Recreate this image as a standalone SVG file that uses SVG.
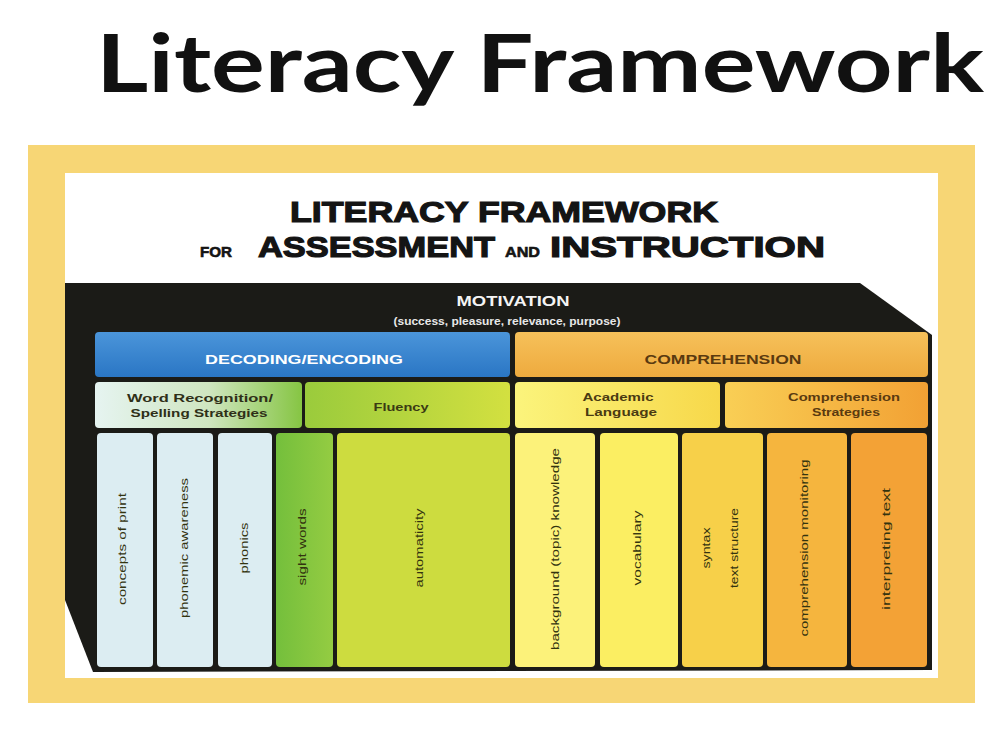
<svg xmlns="http://www.w3.org/2000/svg" width="997" height="733" viewBox="0 0 997 733">
<defs>
<style>
.h{font-family:"Liberation Sans",Arial,sans-serif;font-weight:900;fill:#141414;stroke:#141414;stroke-width:1.2px}
.s{font-family:"Liberation Sans",Arial,sans-serif;font-weight:bold}
.c{font-family:"Liberation Sans",Arial,sans-serif;font-size:11px;fill:#33330f;text-anchor:middle}
</style>
<linearGradient id="gBlue" x1="0" y1="0" x2="0" y2="1"><stop offset="0" stop-color="#4b95da"/><stop offset="1" stop-color="#2a76c4"/></linearGradient>
<linearGradient id="gComp" x1="0" y1="0" x2="0" y2="1"><stop offset="0" stop-color="#f6c15a"/><stop offset="1" stop-color="#eeaa3e"/></linearGradient>
<linearGradient id="gWord" x1="0" y1="0" x2="1" y2="0"><stop offset="0" stop-color="#e6f4f1"/><stop offset="0.55" stop-color="#cfe6c0"/><stop offset="1" stop-color="#86c543"/></linearGradient>
<linearGradient id="gFlu" x1="0" y1="0" x2="1" y2="0"><stop offset="0" stop-color="#9acb3c"/><stop offset="1" stop-color="#d3e040"/></linearGradient>
<linearGradient id="gAcad" x1="0" y1="0" x2="1" y2="0"><stop offset="0" stop-color="#fbf47c"/><stop offset="1" stop-color="#f7d84a"/></linearGradient>
<linearGradient id="gStrat" x1="0" y1="0" x2="1" y2="0"><stop offset="0" stop-color="#f9cf55"/><stop offset="1" stop-color="#f2a134"/></linearGradient>
<linearGradient id="gSight" x1="0" y1="0" x2="1" y2="0"><stop offset="0" stop-color="#74bf3c"/><stop offset="1" stop-color="#94cc42"/></linearGradient>
</defs>
<rect width="997" height="733" fill="#ffffff"/>
<text x="96" y="92" font-family="Lato,'Open Sans',sans-serif" font-weight="bold" font-size="80" fill="#111" textLength="888" lengthAdjust="spacingAndGlyphs">Literacy Framework</text>

<g id="frame">
<rect x="28" y="145" width="947" height="558" fill="#f7d675"/>
<rect x="65" y="173" width="873" height="505" fill="#ffffff"/>
</g>

<g id="heading">
<text class="h" x="290" y="222" font-size="30" textLength="428" lengthAdjust="spacingAndGlyphs">LITERACY FRAMEWORK</text>
<text class="h" x="200" y="257" font-size="15" textLength="32" lengthAdjust="spacingAndGlyphs" style="stroke-width:0.6px">FOR</text>
<text class="h" x="258" y="257" font-size="30" textLength="237" lengthAdjust="spacingAndGlyphs">ASSESSMENT</text>
<text class="h" x="505" y="257" font-size="15" textLength="35" lengthAdjust="spacingAndGlyphs" style="stroke-width:0.6px">AND</text>
<text class="h" x="550" y="257" font-size="30" textLength="275" lengthAdjust="spacingAndGlyphs">INSTRUCTION</text>
</g>

<g id="motivation">
<polygon points="65,283 860,283 932,335 932,670 93,672 65,600" fill="#1b1b17"/>
<text class="s" x="513" y="306" font-size="14" fill="#f4f4f4" text-anchor="middle" textLength="113" lengthAdjust="spacingAndGlyphs">MOTIVATION</text>
<text class="s" x="507" y="325" font-size="10" fill="#e8e8e8" text-anchor="middle" textLength="227" lengthAdjust="spacingAndGlyphs">(success, pleasure, relevance, purpose)</text>
</g>

<g id="decoding">
<rect x="95" y="332" width="415" height="45" rx="4" fill="url(#gBlue)"/>
<text class="s" x="304" y="364" font-size="12" fill="#ffffff" text-anchor="middle" textLength="198" lengthAdjust="spacingAndGlyphs">DECODING/ENCODING</text>
</g>
<g id="comprehension">
<rect x="515" y="332" width="413" height="45" rx="4" fill="url(#gComp)"/>
<text class="s" x="723" y="364" font-size="12" fill="#5a3a10" text-anchor="middle" textLength="157" lengthAdjust="spacingAndGlyphs">COMPREHENSION</text>
</g>

<g id="word-recognition">
<rect x="95" y="382" width="207" height="46" rx="4" fill="url(#gWord)"/>
<text class="s" x="200" y="402" font-size="11" fill="#2f2f18" text-anchor="middle" textLength="146" lengthAdjust="spacingAndGlyphs">Word Recognition/</text>
<text class="s" x="199" y="417" font-size="11" fill="#2f2f18" text-anchor="middle" textLength="137" lengthAdjust="spacingAndGlyphs">Spelling Strategies</text>
</g>
<g id="fluency">
<rect x="305" y="382" width="205" height="46" rx="4" fill="url(#gFlu)"/>
<text class="s" x="401" y="411" font-size="11" fill="#3a3a14" text-anchor="middle" textLength="55" lengthAdjust="spacingAndGlyphs">Fluency</text>
</g>
<g id="academic-language">
<rect x="515" y="382" width="205" height="46" rx="4" fill="url(#gAcad)"/>
<text class="s" x="618" y="401" font-size="11" fill="#4a3a12" text-anchor="middle" textLength="71" lengthAdjust="spacingAndGlyphs">Academic</text>
<text class="s" x="621" y="416" font-size="11" fill="#4a3a12" text-anchor="middle" textLength="72" lengthAdjust="spacingAndGlyphs">Language</text>
</g>
<g id="comprehension-strategies">
<rect x="725" y="382" width="203" height="46" rx="4" fill="url(#gStrat)"/>
<text class="s" x="844" y="401" font-size="11" fill="#5a3a10" text-anchor="middle" textLength="112" lengthAdjust="spacingAndGlyphs">Comprehension</text>
<text class="s" x="846" y="416" font-size="11" fill="#5a3a10" text-anchor="middle" textLength="68" lengthAdjust="spacingAndGlyphs">Strategies</text>
</g>

<g id="concepts-of-print">
<rect x="97" y="433" width="56" height="234" rx="4" fill="#dcedf2"/>
<text class="c" transform="translate(126,549) rotate(-90)" textLength="112" lengthAdjust="spacingAndGlyphs">concepts of print</text>
</g>
<g id="phonemic-awareness">
<rect x="157" y="433" width="56" height="234" rx="4" fill="#dcedf2"/>
<text class="c" transform="translate(188,548) rotate(-90)" textLength="140" lengthAdjust="spacingAndGlyphs">phonemic awareness</text>
</g>
<g id="phonics">
<rect x="218" y="433" width="54" height="234" rx="4" fill="#dcedf2"/>
<text class="c" transform="translate(248,548) rotate(-90)" textLength="51" lengthAdjust="spacingAndGlyphs">phonics</text>
</g>
<g id="sight-words">
<rect x="276" y="433" width="57" height="234" rx="4" fill="url(#gSight)"/>
<text class="c" transform="translate(306,547) rotate(-90)" textLength="77" lengthAdjust="spacingAndGlyphs">sight words</text>
</g>
<g id="automaticity">
<rect x="337" y="433" width="173" height="234" rx="4" fill="#cddc3f"/>
<text class="c" transform="translate(423,548) rotate(-90)" textLength="79" lengthAdjust="spacingAndGlyphs">automaticity</text>
</g>
<g id="background-knowledge">
<rect x="515" y="433" width="80" height="234" rx="4" fill="#fcf27a"/>
<text class="c" transform="translate(559,549) rotate(-90)" textLength="202" lengthAdjust="spacingAndGlyphs">background (topic) knowledge</text>
</g>
<g id="vocabulary">
<rect x="600" y="433" width="78" height="234" rx="4" fill="#fbee62"/>
<text class="c" transform="translate(641,548) rotate(-90)" textLength="75" lengthAdjust="spacingAndGlyphs">vocabulary</text>
</g>
<g id="syntax">
<rect x="682" y="433" width="81" height="234" rx="4" fill="#f7d049"/>
<text class="c" transform="translate(710,548) rotate(-90)" textLength="41" lengthAdjust="spacingAndGlyphs">syntax</text>
<text class="c" transform="translate(738,548) rotate(-90)" textLength="80" lengthAdjust="spacingAndGlyphs">text structure</text>
</g>
<g id="comprehension-monitoring">
<rect x="767" y="433" width="80" height="234" rx="4" fill="#f5b53e"/>
<text class="c" transform="translate(808,548) rotate(-90)" textLength="177" lengthAdjust="spacingAndGlyphs">comprehension monitoring</text>
</g>
<g id="interpreting-text">
<rect x="851" y="433" width="76" height="234" rx="4" fill="#f3a236"/>
<text class="c" transform="translate(890,549) rotate(-90)" textLength="122" lengthAdjust="spacingAndGlyphs">interpreting text</text>
</g>
</svg>
